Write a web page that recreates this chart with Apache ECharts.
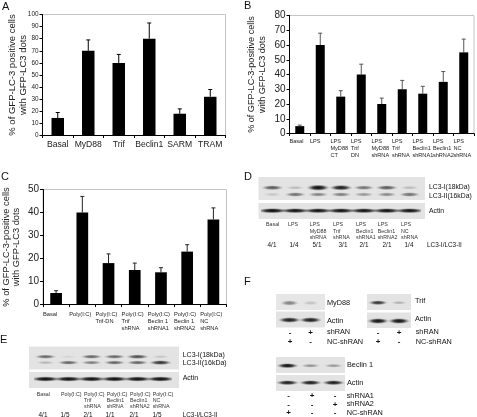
<!DOCTYPE html>
<html><head><meta charset="utf-8">
<style>html,body{margin:0;padding:0;background:#fff}#c{width:477px;height:417px}</style>
<script src="https://cdn.jsdelivr.net/npm/echarts@6/dist/echarts.min.js"></script>
</head><body><div id="c"></div>
<script>
// ---- bar panel data ----
const catsA = ['Basal','MyD88','Trif','Beclin1','SARM','TRAM'];
const valsA = [14.5,70,60,80,18,32];
const errTopA = [19,79,67,93,22,38];
const catsB = ['Basal','LPS','LPS\nMyD88\nCT','LPS\nTrif\nDN','LPS\nMyD88\nshRNA','LPS\nTrif\nshRNA','LPS\nBeclin1\nshRNA1','LPS\nBeclin1\nshRNA2','LPS\nNC\nshRNA'];
const valsB = [5,60,25,40,20,30,27,35,55];
const errTopB = [5.7,68,29,47,24,36,32,42,64];
const catsC = ['Basal','Poly(I:C)','Poly(I:C)\nTrif-DN','Poly(I:C)\nTrif\nshRNA','Poly(I:C)\nBeclin 1\nshRNA1','Poly(I:C)\nBeclin 1\nshRNA2','Poly(I:C)\nNC\nshRNA'];
const valsC = [5,40,18,15,14,23,37];
const errTopC = [6,47,22,18,16,26,42];
// ---- blot band intensities (0-1) per lane ----
const dLC3I = [.55,.16,1,.8,.45,.55,.16];
const dLC3II = [.12,.45,.38,.4,.3,.35,.45];
const dActin = [.9,.85,.85,.85,.85,.85,.85];
const eLC3I = [.5,.06,.5,.5,.6,.12];
const eLC3II = [.18,.5,.4,.5,.5,.7];
const eActin = [.9,.9,.9,.9,.9,.9];
const fMyD88 = [.4,.14], fMyD88Actin = [.8,.8];
const fTrif = [.7,.2], fTrifActin = [.85,.85];
const fBeclin = [.85,.32,.3], fBeclinActin = [.8,.8,.8];
// ---- texts ----
const lanesD = ['Basal','LPS','LPS\nMyD88\nshRNA','LPS\nTrif\nshRNA','LPS\nBeclin1\nshRNA1','LPS\nBeclin1\nshRNA2','LPS\nNC\nshRNA'];
const ratiosD = ['4/1','1/4','5/1','3/1','2/1','2/1','1/4'];
const lanesE = ['Basal','Poly(I:C)','Poly(I:C)\nTrif\nshRNA','Poly(I:C)\nBeclin1\nshRNA','Poly(I:C)\nBeclin1\nshRNA2','Poly(I:C)\nNC\nshRNA'];
const ratiosE = ['4/1','1/5','2/1','1/1','2/1','1/5'];

const FONT = '"Liberation Sans", Arial, sans-serif';
const W = 477, H = 417;
const option = {animation:false, backgroundColor:'#fff', textStyle:{fontFamily:FONT},
  grid:[], xAxis:[], yAxis:[], series:[], graphic:{elements:[]}};
const G = option.graphic.elements;

function text(x,y,s,size,o){
  G.push({type:'text',x:x,y:y,z:5,style:Object.assign({text:s,fontSize:size,fontFamily:FONT,fill:'#111',
    verticalAlign:'middle',align:'left'},o||{})});
}
function rect(x,y,w,h,c){ G.push({type:'rect',z:-1,shape:{x:x,y:y,width:w,height:h},style:{fill:c}}); }

function errItem(color){
  return function(p,api){
    const x = api.coord([api.value(0),api.value(1)]);
    const t = api.coord([api.value(0),api.value(2)]);
    const s = {stroke:color,lineWidth:1};
    return {type:'group',children:[
      {type:'line',shape:{x1:x[0],y1:x[1],x2:x[0],y2:t[1]},style:s},
      {type:'line',shape:{x1:x[0]-2,y1:t[1],x2:x[0]+2,y2:t[1]},style:s}]};
  };
}
function barPanel(c){
  const i = option.grid.length;
  option.grid.push({left:c.left,top:c.top,width:c.right-c.left,height:c.bottom-c.top,show:true,
    borderColor:'#c4c4c4',borderWidth:1,backgroundColor:'#fff'});
  const bw = (c.right-c.left)/c.cats.length;
  const lab = c.leftLabels ? {
    interval:0,margin:c.margin,hideOverlap:false,
    formatter:v=>v.split('\n').map(l=>'{l|'+l+'}').join('\n'),
    rich:{l:{align:'left',width:bw,fontSize:c.labelSize,lineHeight:c.labelLH,color:'#222',fontFamily:FONT}}
  } : {interval:0,margin:c.margin,fontSize:c.labelSize,color:'#222',fontFamily:FONT};
  option.xAxis.push({gridIndex:i,type:'category',data:c.cats,
    axisLine:{lineStyle:{color:'#000',width:1}},axisTick:{show:true,length:2.5,lineStyle:{color:'#000'}},axisLabel:lab});
  option.yAxis.push({gridIndex:i,type:'value',min:0,max:c.ymax,interval:c.interval,
    name:c.title,nameLocation:'middle',nameGap:c.nameGap,nameMoveOverlap:false,
    nameTextStyle:{fontSize:c.titleSize,lineHeight:c.titleLH,color:'#222',fontFamily:FONT},
    axisLine:{show:true,lineStyle:{color:'#000',width:1}},axisTick:{show:true,length:3,lineStyle:{color:'#000'}},
    axisLabel:{fontSize:c.tickSize,color:'#222',margin:4,fontFamily:FONT},splitLine:{show:false}});
  option.series.push({type:'bar',xAxisIndex:i,yAxisIndex:i,data:c.vals,barWidth:c.barW,itemStyle:{color:'#000'},silent:true});
  option.series.push({type:'custom',xAxisIndex:i,yAxisIndex:i,clip:false,silent:true,
    data:c.vals.map((v,k)=>[k,v,c.tops[k]]),encode:{x:0,y:[1,2]},renderItem:errItem(c.errColor)});
}
function bandItem(bw,bh,h){
  return function(p,api){
    const a = api.value(2);
    const c = api.coord([api.value(0),h-api.value(1)]);
    const w = bw*(.72+.28*Math.min(1,a*1.6)), t = bh*(.7+.6*a);
    const R = 10, al = Math.min(1,a*1.15);
    return {type:'circle',x:c[0],y:c[1],scaleX:w/2/R,scaleY:t/2/R,shape:{cx:0,cy:0,r:R},
      style:{fill:new echarts.graphic.RadialGradient(.5,.5,.5,[
        {offset:0,color:'rgba(5,5,5,'+al+')'},
        {offset:.45,color:'rgba(15,15,15,'+(al*.8)+')'},
        {offset:.8,color:'rgba(40,40,40,'+(al*.2)+')'},
        {offset:1,color:'rgba(60,60,60,0)'}])}};
  };
}
// one blot strip: rows are [pixelY, intensities]
function strip(c){
  rect(c.bgX,c.top,c.bgW,c.h,c.bg||'#e3e3e3');
  const i = option.grid.length, n = c.rows[0][1].length;
  option.grid.push({left:c.laneX,top:c.top,width:c.laneW,height:c.h,show:false});
  option.xAxis.push({gridIndex:i,type:'category',data:c.rows[0][1].map((_,k)=>k),show:false});
  option.yAxis.push({gridIndex:i,type:'value',min:0,max:c.h,show:false});
  c.rows.forEach(r=>{
    option.series.push({type:'custom',xAxisIndex:i,yAxisIndex:i,clip:true,silent:true,
      data:r[1].map((v,k)=>[k,r[0]-c.top,v]),encode:{x:0,y:1},renderItem:bandItem(c.bandW,c.bandH,c.h)});
  });
}

// ---------- panels A B C ----------
barPanel({left:42.5,right:225.5,top:14.5,bottom:135.5,cats:catsA,vals:valsA,tops:errTopA,ymax:100,interval:10,
  title:'% of GFP-LC-3 positive cells\nwith GFP-LC3 dots',nameGap:14,titleSize:9.5,titleLH:11,tickSize:6.4,
  labelSize:8.6,margin:5,barW:12.5,errColor:'#000'});
barPanel({left:289.5,right:475.5,top:15.5,bottom:133.5,cats:catsB,vals:valsB,tops:errTopB,ymax:80,interval:10,
  title:'% of GFP-LC-3-positive cells\nwith GFP-LC3 dots',nameGap:22,titleSize:9.1,titleLH:11,tickSize:10,
  labelSize:5.6,labelLH:7.2,leftLabels:true,margin:4,barW:9,errColor:'#555'});
barPanel({left:42.5,right:226.5,top:189.5,bottom:304.5,cats:catsC,vals:valsC,tops:errTopC,ymax:50,interval:10,
  title:'% of GFP-LC-3-positive cells\nwith GFP-LC3 dots',nameGap:22,titleSize:9.3,titleLH:10,tickSize:10,
  labelSize:5.7,labelLH:7,leftLabels:true,margin:6,barW:11.7,errColor:'#222'});

// ---------- letters ----------
[['A',2,7],['B',244,6],['C',1,177],['D',244,177],['E',0,340],['F',244,282]].forEach(a=>text(a[1],a[2],a[0],11));

// ---------- panel D ----------
strip({bgX:258.5,bgW:166.5,top:177,h:23,laneX:261,laneW:160,bandW:24,bandH:5,rows:[[187.7,dLC3I],[194.5,dLC3II]]});
strip({bgX:258.5,bgW:166.5,top:203,h:16,laneX:261,laneW:160,bandW:32,bandH:4.5,rows:[[210.7,dActin]]});
text(429,187,'LC3-I(18kDa)',6.8); text(429,196,'LC3-II(16kDa)',6.8); text(429,211,'Actin',6.8);
const lxD=[266,288,309.7,333,356,377.7,401], ctD=[272,294,317,343,364,387,409];
lanesD.forEach((s,k)=>s.split('\n').forEach((l,j)=>text(lxD[k],225+j*6.2,l,5.3,{fill:'#333'})));
ratiosD.forEach((s,k)=>text(ctD[k],245.7,s,6.4,{align:'center'}));
text(427,245.7,'LC3-I/LC3-II',6.4);

// ---------- panel E ----------
strip({bgX:29,bgW:150,top:346.5,h:23,laneX:34,laneW:138,bandW:24,bandH:4.5,rows:[[356.7,eLC3I],[362.6,eLC3II]]});
strip({bgX:29,bgW:150,top:372,h:16,laneX:34,laneW:138,bandW:31,bandH:4.5,rows:[[379,eActin]]});
text(182.7,354.7,'LC3-I(18kDa)',7); text(182.7,363,'LC3-II(16kDa)',7); text(182.7,378,'Actin',7);
const lxE=[36.7,61,84,106.7,130,152.7], ctE=[43,65,88,110,134,157];
lanesE.forEach((s,k)=>s.split('\n').forEach((l,j)=>text(lxE[k],395+j*6,l,5.3,{fill:'#333'})));
ratiosE.forEach((s,k)=>text(ctE[k],415,s,6.4,{align:'center'}));
text(182.7,415,'LC3-I/LC3-II',6.4);

// ---------- panel F ----------
strip({bgX:276,bgW:49,top:294,h:16,laneX:279,laneW:42,bandW:21,bandH:6,bg:'#e6e6e6',rows:[[303,fMyD88]]});
strip({bgX:276,bgW:49,top:311.5,h:16,laneX:279,laneW:42,bandW:24,bandH:5,rows:[[320,fMyD88Actin]]});
text(327,303,'MyD88',7.3); text(327,321,'Actin',7.3);
strip({bgX:367,bgW:44,top:294,h:16,laneX:367.5,laneW:42,bandW:20,bandH:4.5,rows:[[302.7,fTrif]]});
strip({bgX:367,bgW:44,top:312.5,h:15.5,laneX:367.5,laneW:42,bandW:23,bandH:5,rows:[[321,fTrifActin]]});
text(415,301,'Trif',7.3); text(415,319,'Actin',7.3);
strip({bgX:276,bgW:69,top:357,h:16,laneX:276,laneW:69,bandW:23,bandH:4.5,rows:[[365.7,fBeclin]]});
strip({bgX:276,bgW:69,top:375,h:16,laneX:276,laneW:69,bandW:24,bandH:4.5,rows:[[382.7,fBeclinActin]]});
text(347,365,'Beclin 1',7.3); text(347,382.7,'Actin',7.3);
function marks(xs,y,signs,label,lx){
  signs.forEach((s,k)=>text(xs[k],y,s,8,{align:'center',fontWeight:'bold',fontSize:8}));
  text(lx,y,label,7.3);
}
marks([290,310.5],332.3,['-','+'],'shRAN',327);
marks([290,310.5],341.7,['+','-'],'NC-shRAN',327);
marks([378,399],332.3,['-','+'],'shRAN',415.7);
marks([378,399],341.7,['+','-'],'NC-shRAN',415.7);
marks([288.5,312,335],395.7,['-','+','-'],'shRNA1',346.7);
marks([288.5,312,335],404.3,['-','-','+'],'shRNA2',346.7);
marks([288.5,312,335],413,['+','-','-'],'NC-shRAN',346.7);

echarts.init(document.getElementById('c'),null,{renderer:'canvas',width:W,height:H}).setOption(option);
</script></body></html>
